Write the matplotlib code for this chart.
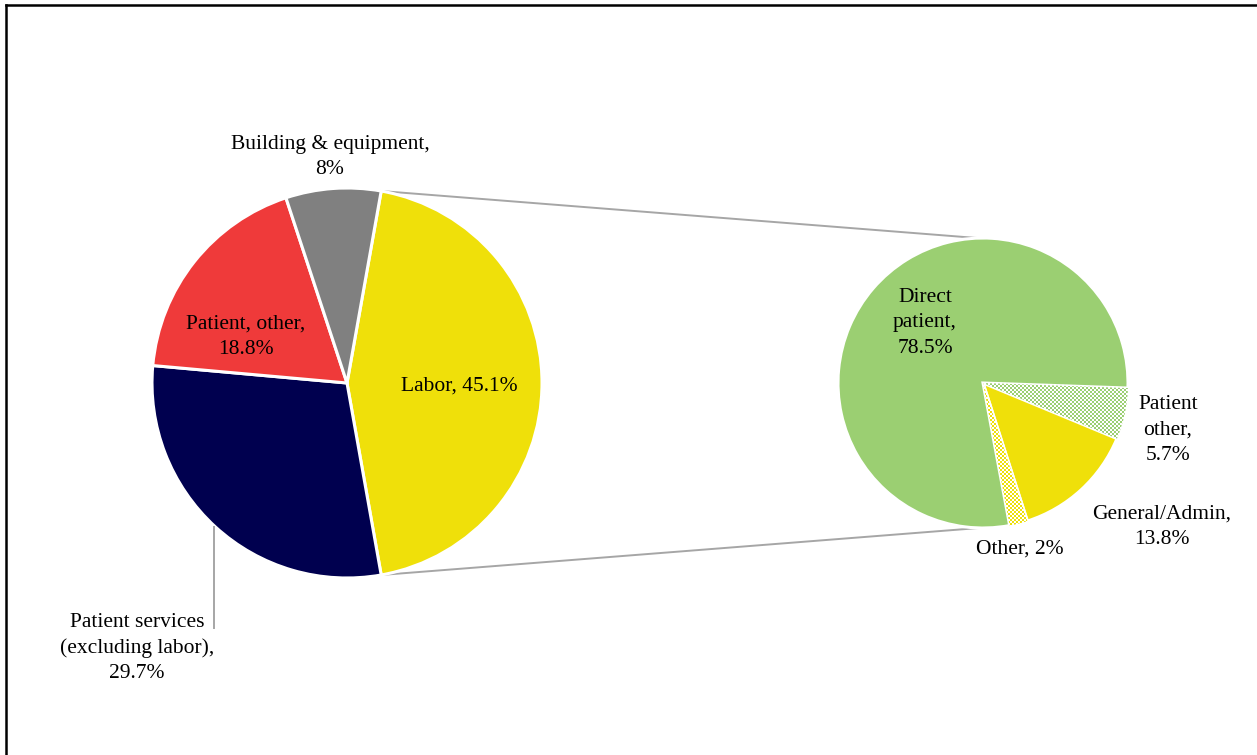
import numpy as np
import matplotlib.pyplot as plt
from matplotlib.lines import Line2D
from matplotlib.colors import to_rgba

plt.rcParams['font.family'] = ['Liberation Serif', 'DejaVu Serif']

# main pie: total cost split
main_names = ['Labor', 'Patient services\n(excluding labor)', 'Patient, other', 'Building & equipment']
main_values = [45.1, 29.7, 18.8, 8]
main_colors = ['#EFE00A', '#00004F', '#EF3A3A', '#808080']

# secondary pie: breakdown of labor
labor_names = ['Patient\nother', 'General/Admin', 'Other', 'Direct\npatient']
labor_values = [5.7, 13.8, 2, 78.5]
labor_colors = ['#9BCF72', '#EFE00A', '#EFE00A', '#9BCF72']
labor_checker = [True, False, True, False]

W, H = 1257, 755
fig = plt.figure(figsize=(W / 100, H / 100), dpi=100)
ax = fig.add_axes([0, 0, 1, 1])
ax.axis('off')

c1, r1 = (347, H - 383), 195
c2, r2 = (983, H - 383), 145

# left pie, labor slice centred on the right
labor_span = main_values[0] / sum(main_values) * 360
w1, _ = ax.pie(main_values, colors=main_colors, startangle=labor_span / 2,
               counterclock=False, center=c1, radius=r1, normalize=True,
               wedgeprops=dict(edgecolor='white', linewidth=2.2))

# right pie, small slices pulled out
w2, _ = ax.pie(labor_values, colors=labor_colors, startangle=-2,
               counterclock=False, center=c2, radius=r2,
               explode=[0.05, 0.05, 0.05, 0],
               wedgeprops=dict(edgecolor='white', linewidth=2.2))


def checker_fill(wedge, color):
    # small checkerboard pattern clipped to the wedge
    cell = 2
    ny, nx = H // cell + 2, W // cell + 2
    yy, xx = np.mgrid[0:ny, 0:nx]
    mask = (xx + yy) % 2 == 0
    rgba = np.ones((ny, nx, 4))
    rgba[mask] = to_rgba(color)
    wedge.set_facecolor('white')
    im = ax.imshow(rgba, extent=(0, nx * cell, 0, ny * cell), origin='lower',
                   interpolation='nearest', zorder=wedge.get_zorder() + 0.1)
    im.set_clip_path(wedge)


for w, col, chk in zip(w2, labor_colors, labor_checker):
    if chk:
        checker_fill(w, col)

ax.set_xlim(0, W)
ax.set_ylim(0, H)
ax.set_aspect('equal')

# connector lines from the labor slice to the breakdown pie
lw = w1[0]
t_top, t_bot = np.radians(lw.theta2), np.radians(lw.theta1)
p_top = (c1[0] + r1 * np.cos(t_top), c1[1] + r1 * np.sin(t_top))
p_bot = (c1[0] + r1 * np.cos(t_bot), c1[1] + r1 * np.sin(t_bot))
ow = w2[2]
ob = np.radians(ow.theta1)
q_top = (c2[0] + r2 * np.cos(np.radians(92)), c2[1] + r2 * np.sin(np.radians(92)))
q_bot = (ow.center[0] + r2 * np.cos(ob), ow.center[1] + r2 * np.sin(ob))
ax.plot([p_top[0], q_top[0]], [p_top[1], q_top[1]], color='#A6A6A6', lw=1.4, zorder=0)
ax.plot([p_bot[0], q_bot[0]], [p_bot[1], q_bot[1]], color='#A6A6A6', lw=1.4, zorder=0)

# leader line for patient services label
ax.plot([214, 214], [H - 527, H - 628], color='#A6A6A6', lw=1.4)


def pct(v):
    return f'{v:g}%'


fs = 15.5
txt = dict(fontsize=fs, ha='center', va='center', linespacing=1.45, color='black')
ax.text(330, H - 157, 'Building & equipment,\n' + pct(main_values[3]), **txt)
ax.text(246, H - 337, 'Patient, other,\n' + pct(main_values[2]), **txt)
ax.text(459, H - 386, 'Labor, ' + pct(main_values[0]), **txt)
ax.text(137, H - 648, main_names[1] + ',\n' + pct(main_values[1]), **txt)
ax.text(925, H - 323, labor_names[3] + ',\n' + pct(labor_values[3]), **txt)
ax.text(1168, H - 430, labor_names[0] + ',\n' + pct(labor_values[0]), **txt)
ax.text(1162, H - 527, labor_names[1] + ',\n' + pct(labor_values[1]), **txt)
ax.text(1020, H - 549, labor_names[2] + ', ' + pct(labor_values[2]), **txt)

# chart frame (top and left edges)
fig.add_artist(Line2D([6 / W, 1], [1 - 5 / H, 1 - 5 / H], color='black', lw=1.8))
fig.add_artist(Line2D([6 / W, 6 / W], [0, 1 - 5 / H], color='black', lw=1.8))

fig.savefig('out.png', dpi=100)
